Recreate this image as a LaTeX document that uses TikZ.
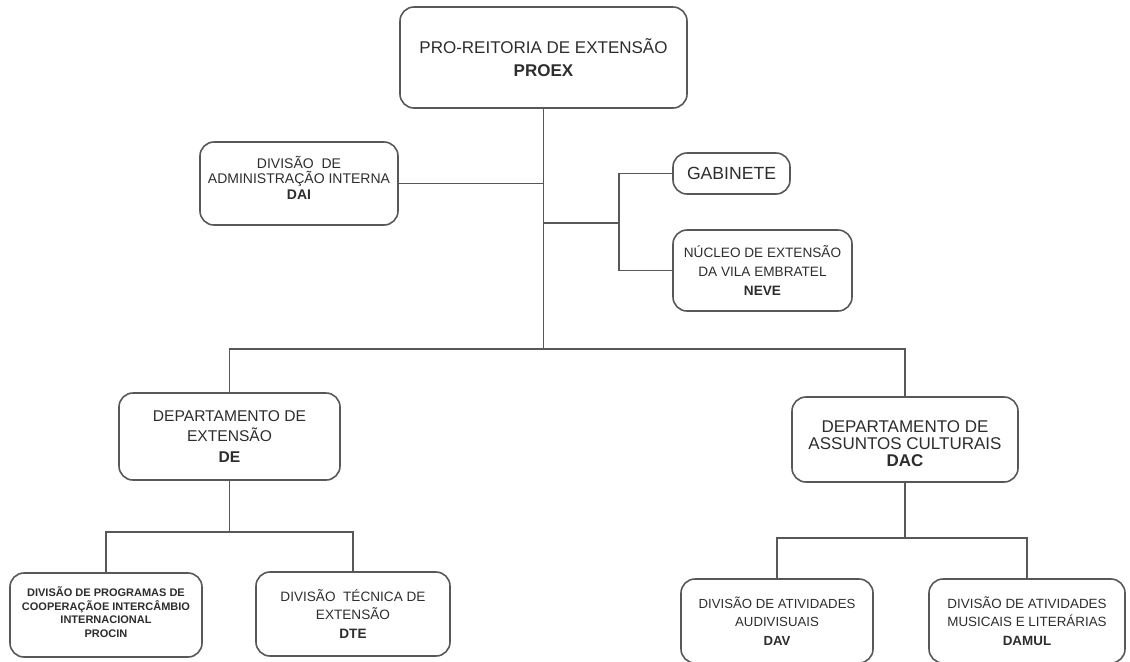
\documentclass[tikz,border=0pt]{standalone}
\usepackage{fontspec}
\setmainfont{Liberation Sans}
\usetikzlibrary{positioning,calc}
\definecolor{linegray}{RGB}{88,88,88}
\definecolor{textgray}{RGB}{45,45,45}
\newcommand{\fsz}[2]{\fontsize{#1}{#2}\selectfont}
\tikzset{orgbox/.style={draw=linegray, line width=0.8pt, rounded corners=7pt, align=center, text=textgray, inner sep=0pt},
link/.style={draw=linegray, line width=0.75pt}}

\begin{document}
\begin{tikzpicture}[x=0.5pt,y=-0.5pt]
\useasboundingbox (0,0) rectangle (1130,661);
\node[orgbox, minimum width=143.5pt, minimum height=50.5pt, font=\fsz{8.5}{11.5}] (proex) at (543.5,57.5)
{PRO-REITORIA DE EXTENSÃO\\\textbf{PROEX}};
\node[orgbox, minimum width=99pt, minimum height=41.5pt, text depth=6pt, font=\fsz{7}{7.8}] (dai) at (299,183.5)
{DIVISÃO\ \ DE\\ADMINISTRAÇÃO INTERNA\\\textbf{DAI}};
\node[orgbox, minimum width=58.5pt, minimum height=20.5pt, font=\fsz{8.8}{10}] (gab) at (731.5,173.5)
{GABINETE};
\node[orgbox, minimum width=89.5pt, minimum height=40.5pt, font=\fsz{6.8}{9.5}] (neve) at (762.5,270.5)
{NÚCLEO DE EXTENSÃO\\DA VILA EMBRATEL\\\textbf{NEVE}};
\node[orgbox, minimum width=110.5pt, minimum height=43.5pt, font=\fsz{7.8}{10.2}] (de) at (229.5,436.5)
{DEPARTAMENTO DE\\EXTENSÃO\\\textbf{DE}};
\node[orgbox, minimum width=113pt, minimum height=42.5pt, text height=27pt, font=\fsz{8.5}{8.5}] (dac) at (905,439.5)
{DEPARTAMENTO DE\\ASSUNTOS CULTURAIS\\\textbf{DAC}};
\node[orgbox, minimum width=96pt, minimum height=42pt, text depth=3pt, font=\fsz{5.5}{6.7}\bfseries] (procin) at (106,615)
{DIVISÃO DE PROGRAMAS DE\\COOPERAÇÃOE INTERCÂMBIO\\INTERNACIONAL\\PROCIN};
\node[orgbox, minimum width=97pt, minimum height=42pt, font=\fsz{6.8}{9.2}] (dte) at (353,614)
{DIVISÃO\ \ TÉCNICA DE\\EXTENSÃO\\\textbf{DTE}};
\node[orgbox, minimum width=96pt, minimum height=42pt, font=\fsz{6.6}{9.2}] (dav) at (777,621)
{DIVISÃO DE ATIVIDADES\\AUDIVISUAIS\\\textbf{DAV}};
\node[orgbox, minimum width=98pt, minimum height=42pt, font=\fsz{6.7}{9.2}] (damul) at (1027,621)
{DIVISÃO DE ATIVIDADES\\MUSICAIS E LITERÁRIAS\\\textbf{DAMUL}};

\coordinate (bar) at (543.5,349);
\coordinate (trunk) at (543.5,223);
\coordinate (gsplit) at (619,223);
\coordinate (desplit) at (229.5,532);
\coordinate (dacsplit) at (905,538);

\draw[link] (proex.south) -- (bar);
\draw[link] (dai.east) -- (dai.east -| bar);
\draw[link] (trunk) -- (gsplit);
\draw[link] (gab.west) -| (gsplit) |- (neve.west);
\draw[link] (de.north) -- (de.north |- bar) -- (dac.north |- bar) -- (dac.north);
\draw[link] (de.south) -- (desplit);
\draw[link] (procin.north) -- (procin.north |- desplit) -- (dte.north |- desplit) -- (dte.north);
\draw[link] (dac.south) -- (dacsplit);
\draw[link] (dav.north) -- (dav.north |- dacsplit) -- (damul.north |- dacsplit) -- (damul.north);
\end{tikzpicture}
\end{document}
